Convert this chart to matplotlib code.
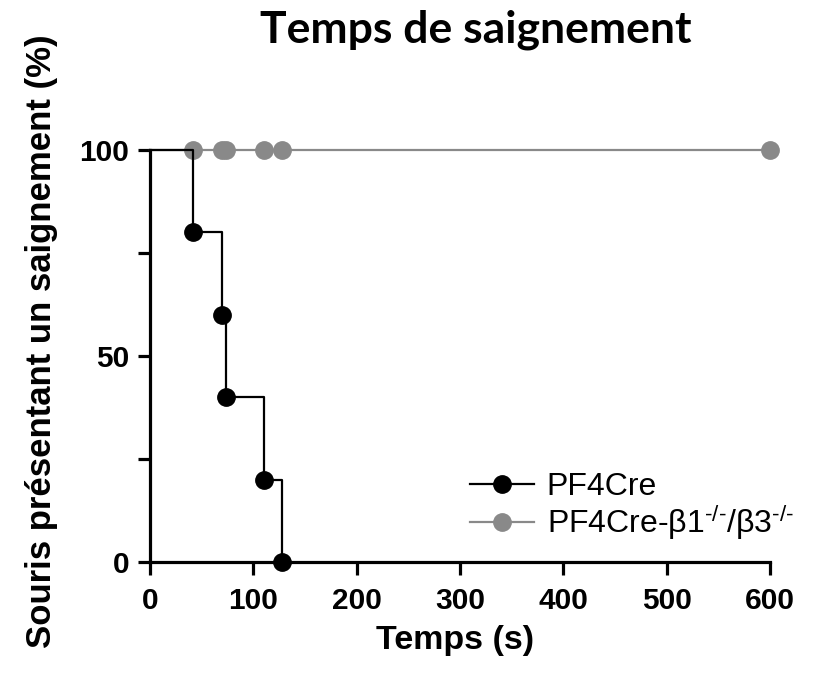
import matplotlib
matplotlib.use("Agg")
import matplotlib.pyplot as plt
from matplotlib.lines import Line2D

# Data
wt_times = [0, 42, 70, 74, 110, 128]
wt_values = [100, 80, 60, 40, 20, 0]
ko_times = [42, 70, 74, 110, 128, 600]
ko_values = [100, 100, 100, 100, 100, 100]
xticks = [0, 100, 200, 300, 400, 500, 600]
yticks = [0, 50, 100]
label_wt = "PF4Cre"
label_ko = r"PF4Cre-β1$^{\text{-/-}}$/β3$^{\text{-/-}}$"

plt.rcParams['mathtext.fontset'] = 'custom'
plt.rcParams['mathtext.rm'] = 'Liberation Sans'
plt.rcParams['mathtext.it'] = 'Liberation Sans'
plt.rcParams['font.family'] = ['Liberation Sans', 'DejaVu Sans']

fig = plt.figure(figsize=(8.28, 6.73), dpi=100)
ax = fig.add_axes([150/828, 1-562/673, 620/828, 412/673])

gray = '#898989'
ax.plot([0, 600], [100, 100], color=gray, lw=1.6, zorder=2, clip_on=False)
ax.plot(ko_times, ko_values, 'o', color=gray, ms=12.5, zorder=3, clip_on=False)
ax.step(wt_times, wt_values, where='post', color='black', lw=1.6, zorder=4, clip_on=False)
ax.plot(wt_times[1:], wt_values[1:], 'o', color='black', ms=12.5, zorder=5, clip_on=False)

ax.set_xlim(0, 600)
ax.set_ylim(0, 100)
ax.set_xticks(xticks)
ax.set_yticks(yticks)
ax.set_yticks([25, 75], minor=True)
for s in ['top', 'right']:
    ax.spines[s].set_visible(False)
for s in ['left', 'bottom']:
    ax.spines[s].set_linewidth(2.3)
ax.tick_params(which='both', width=2.3, length=9, labelsize=21.5)
ax.tick_params(axis='x', pad=9)
ax.tick_params(axis='y', pad=6)
for lab in ax.get_xticklabels() + ax.get_yticklabels():
    lab.set_fontweight('bold')

ax.set_xlabel("Temps (s)", fontsize=24.5, fontweight='bold')
ax.set_ylabel("Souris présentant un saignement (%)", fontsize=25, fontweight='bold')
ax.xaxis.set_label_coords((455-150)/620, -(640-562)/412)
ax.yaxis.set_label_coords((42-150)/620, (562-341)/412)
ax.xaxis.label.set_va('center')
ax.yaxis.label.set_va('center')

fig.text(476/828, 1-30/673, "Temps de saignement", fontsize=32, fontweight='bold',
         family=['Lato', 'DejaVu Sans'], ha='center', va='center')

handles = [Line2D([0], [0], color='black', lw=1.6, marker='o', ms=12.5),
           Line2D([0], [0], color=gray, lw=1.6, marker='o', ms=12.5)]
ax.legend(handles, [label_wt, label_ko], loc='center left',
          bbox_to_anchor=(470/828, 1-507/673), bbox_transform=fig.transFigure,
          borderaxespad=0, borderpad=0,
          frameon=False, fontsize=23, handlelength=2.0, labelspacing=0.02, handletextpad=0.4)

fig.savefig("out.png", dpi=100)
